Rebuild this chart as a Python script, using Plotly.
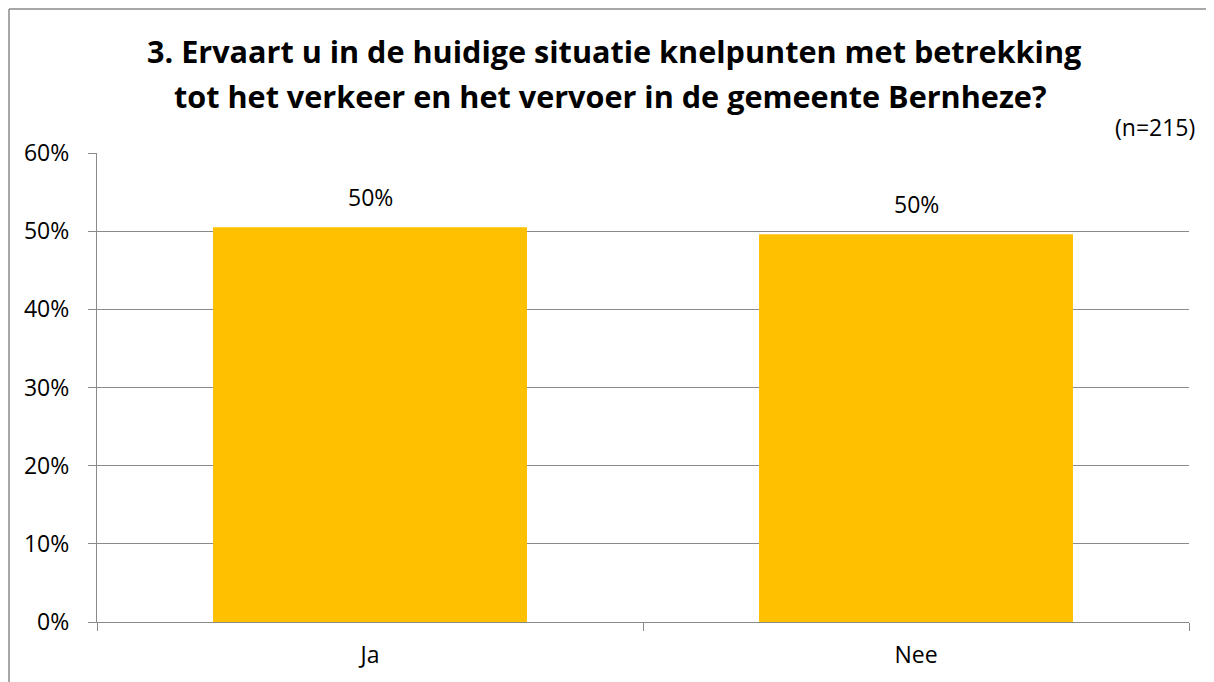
import plotly.graph_objects as go

categories = ["Ja", "Nee"]
values = [50.5, 49.6]
value_labels = ["50%", "50%"]
y_ticks = [0, 10, 20, 30, 40, 50, 60]
y_tick_labels = ["0%", "10%", "20%", "30%", "40%", "50%", "60%"]
title_lines = [
    "3. Ervaart u in de huidige situatie knelpunten met betrekking",
    "tot het verkeer en het vervoer in de gemeente Bernheze?",
]
n_note = "(n=215)"

BODY_FONT = "Open Sans, Liberation Sans, sans-serif"
TITLE_FONT = "Liberation Sans Narrow, Arial Narrow, Open Sans, sans-serif"
GRID = "#8a8a8a"

fig = go.Figure(
    go.Bar(
        x=categories,
        y=values,
        marker=dict(color="#FFC000", line=dict(width=0)),
        hoverinfo="skip",
    )
)

OFF = 8  # page body margin
W, H = 1206, 674
L, T = 97 - OFF, 153 - OFF
R = W - (1189 - OFF)
B = H - (622 - OFF)
pw, ph = W - L - R, H - T - B

def px_x(p):
    return (p - OFF - L) / pw

def px_y(p):
    return (H - B - (p - OFF)) / ph

annotations = []
for c, v, lab in zip(categories, values, value_labels):
    annotations.append(dict(
        x=c, y=v, xref="x", yref="y", text=lab, showarrow=False,
        yanchor="bottom", yshift=12,
        font=dict(family=BODY_FONT, size=23, color="#000000"),
    ))

annotations.append(dict(
    x=px_x(614), y=px_y(51), xref="paper", yref="paper", text=f"<b>{title_lines[0]}</b>",
    showarrow=False, xanchor="center", yanchor="middle",
    font=dict(family=TITLE_FONT, size=30.6, color="#000000"),
))
annotations.append(dict(
    x=px_x(610), y=px_y(96), xref="paper", yref="paper", text=f"<b>{title_lines[1]}</b>",
    showarrow=False, xanchor="center", yanchor="middle",
    font=dict(family=TITLE_FONT, size=30.6, color="#000000"),
))
annotations.append(dict(
    x=px_x(1197), y=px_y(127), xref="paper", yref="paper", text=n_note,
    showarrow=False, xanchor="right", yanchor="middle",
    font=dict(family=BODY_FONT, size=23, color="#000000"),
))

border = dict(color="#8a8a8a", width=1.5)
fig.update_layout(
    width=W, height=H,
    margin=dict(l=L, r=R, t=T, b=B, pad=0, autoexpand=False),
    paper_bgcolor="#ffffff",
    plot_bgcolor="#ffffff",
    bargap=0.425,
    showlegend=False,
    annotations=annotations,
    shapes=[
        dict(type="line", xref="paper", yref="paper",
             x0=px_x(9), x1=px_x(1230), y0=px_y(9), y1=px_y(9), line=border, layer="below"),
        dict(type="line", xref="paper", yref="paper",
             x0=px_x(9), x1=px_x(9), y0=px_y(9), y1=px_y(700), line=border, layer="below"),
    ],
    xaxis=dict(
        type="category",
        automargin=False,
        showgrid=False,
        showline=True, linecolor=GRID, linewidth=1.3,
        ticks="outside", ticklen=8, tickcolor=GRID, tickwidth=1.3,
        tickson="boundaries",
        ticklabelstandoff=12,
        tickfont=dict(family=BODY_FONT, size=23, color="#000000"),
    ),
    yaxis=dict(
        automargin=False,
        range=[0, 60],
        tickvals=y_ticks, ticktext=y_tick_labels,
        showgrid=True, gridcolor=GRID, gridwidth=1.3,
        showline=True, linecolor=GRID, linewidth=1.3,
        ticks="outside", ticklen=8, tickcolor=GRID, tickwidth=1.3,
        ticklabelstandoff=14,
        zeroline=False,
        tickfont=dict(family=BODY_FONT, size=23, color="#000000"),
    ),
)

fig.write_html("out.html")
